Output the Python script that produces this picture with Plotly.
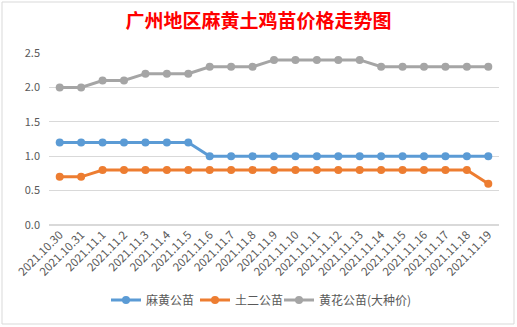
import plotly.graph_objects as go

dates = ["2021.10.30", "2021.10.31", "2021.11.1", "2021.11.2", "2021.11.3", "2021.11.4",
         "2021.11.5", "2021.11.6", "2021.11.7", "2021.11.8", "2021.11.9", "2021.11.10",
         "2021.11.11", "2021.11.12", "2021.11.13", "2021.11.14", "2021.11.15", "2021.11.16",
         "2021.11.17", "2021.11.18", "2021.11.19"]

mahuang = [1.2, 1.2, 1.2, 1.2, 1.2, 1.2, 1.2, 1.0, 1.0, 1.0, 1.0, 1.0, 1.0, 1.0, 1.0,
           1.0, 1.0, 1.0, 1.0, 1.0, 1.0]
tuer = [0.7, 0.7, 0.8, 0.8, 0.8, 0.8, 0.8, 0.8, 0.8, 0.8, 0.8, 0.8, 0.8, 0.8, 0.8,
        0.8, 0.8, 0.8, 0.8, 0.8, 0.6]
huanghua = [2.0, 2.0, 2.1, 2.1, 2.2, 2.2, 2.2, 2.3, 2.3, 2.3, 2.4, 2.4, 2.4, 2.4, 2.4,
            2.3, 2.3, 2.3, 2.3, 2.3, 2.3]

names = ["麻黄公苗", "土二公苗", "黄花公苗(大种价)"]
colors = ["#5B9BD5", "#ED7D31", "#A5A5A5"]
series = [mahuang, tuer, huanghua]
legend_ids = ["legend", "legend2", "legend3"]
legend_px = [110, 199, 283]

fig = go.Figure()
for name, vals, c, lg in zip(names, series, colors, legend_ids):
    fig.add_trace(go.Scatter(
        x=dates, y=vals, name=name, mode="lines+markers",
        line=dict(color=c, width=3),
        marker=dict(color=c, size=8),
        legend=lg,
    ))

font_family = "Noto Sans CJK SC, Noto Sans, sans-serif"
legends = {}
for lg, px in zip(legend_ids, legend_px):
    legends[lg] = dict(orientation="h", x=(px - 49 - 4) / 450, xanchor="left",
                       y=-0.436, yanchor="middle",
                       font=dict(size=12, color="#595959"), itemwidth=30,
                       bgcolor="rgba(0,0,0,0)")

fig.update_layout(
    width=517, height=327,
    margin=dict(l=49, r=18, t=53, b=102),
    paper_bgcolor="white", plot_bgcolor="white",
    font=dict(family=font_family, color="#595959", size=11),
    title=dict(text="<b>广州地区麻黄土鸡苗价格走势图</b>", x=0.5, xanchor="center",
               y=1 - 21 / 327, yanchor="middle",
               font=dict(family=font_family, color="#FF0000", size=19)),
    showlegend=True,
    xaxis=dict(type="category", range=[-0.5, len(dates) - 0.5], tickangle=-45,
               showgrid=False, showline=False, ticks="",
               tickfont=dict(size=11.5, color="#595959"), fixedrange=True),
    yaxis=dict(range=[0, 2.5], dtick=0.5, tickformat=".1f", showgrid=True,
               gridcolor="#D9D9D9", gridwidth=1, zeroline=True, zerolinecolor="#D9D9D9",
               showline=False, ticks="", tickfont=dict(size=11, color="#595959"),
               ticklabelstandoff=8),
    shapes=[dict(type="rect", xref="paper", yref="paper",
                 x0=(2 - 49) / 450, x1=(514 - 49) / 450,
                 y0=(225 - 324) / 172, y1=(225 - 2) / 172,
                 line=dict(color="#D9D9D9", width=1), layer="below")],
    **legends,
)

fig.write_html("out.html")
